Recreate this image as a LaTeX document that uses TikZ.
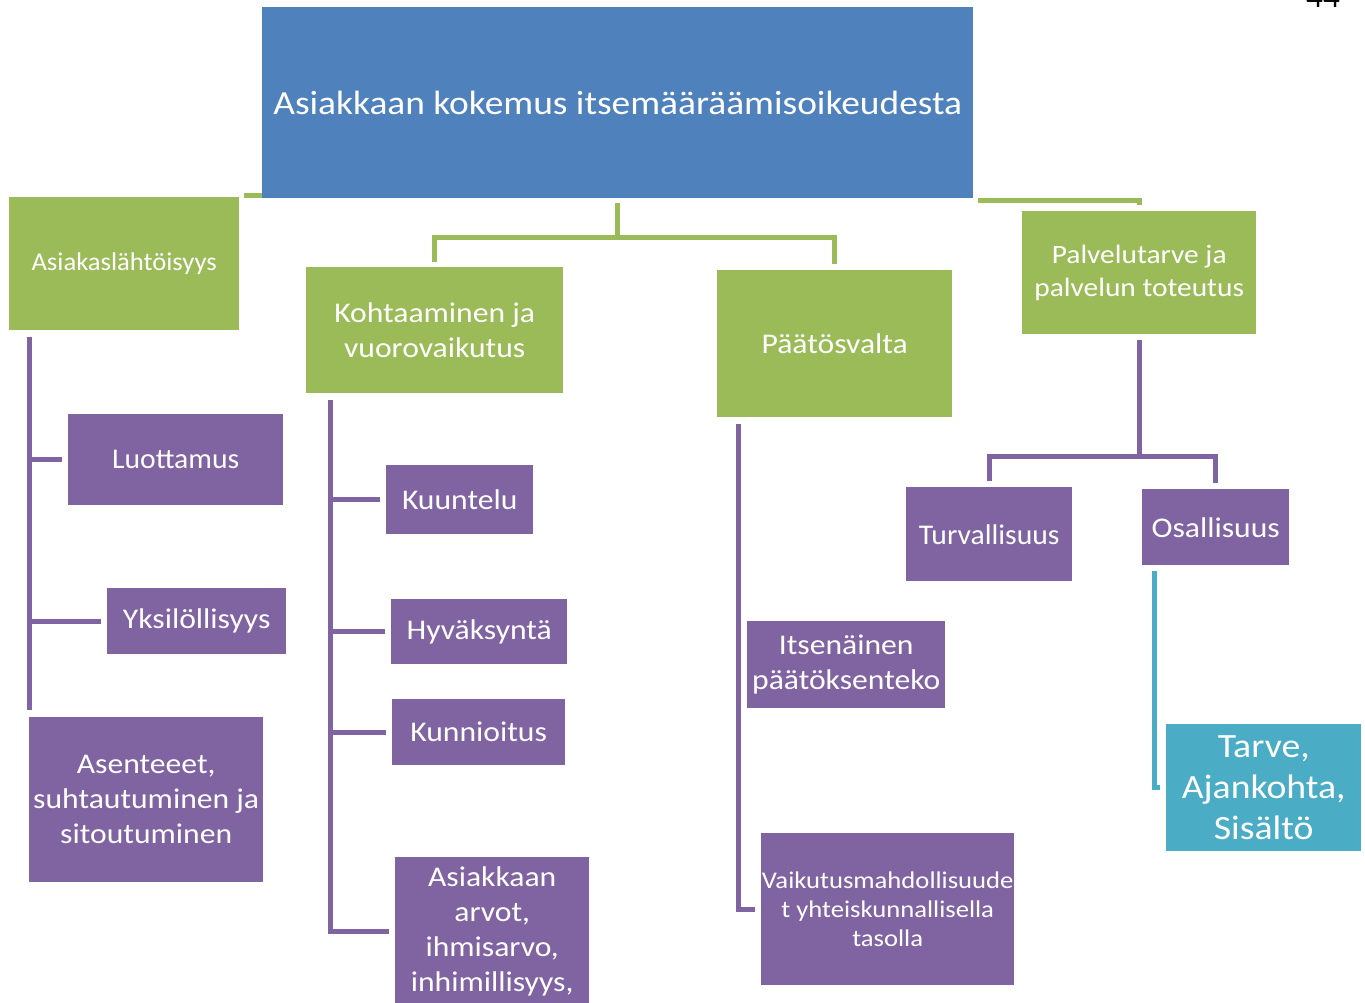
\documentclass[tikz,border=0pt]{standalone}
\usepackage{fontspec}
\setmainfont[FakeStretch=1.11]{Carlito}
\newfontfamily\narrowfont[FakeStretch=1.04]{Carlito}
\usetikzlibrary{positioning}

\begin{document}
\begin{tikzpicture}[x=1pt, y=-1pt, % pixel units, y running down like the screen
    wh/.style 2 args={minimum width=#1, minimum height=#2},
    box/.style={anchor=north west, inner sep=0pt, text=white, align=center,
                font=\fontsize{28.5}{35}\selectfont},
    bluebox/.style={box, fill=topblue},
    greenbox/.style={box, fill=topgreen},
    purplebox/.style={box, fill=subpurple},
    cyanbox/.style={box, fill=subcyan},
    greenline/.style={draw=topgreen, line width=5pt},
    purpleline/.style={draw=subpurple, line width=5pt},
    cyanline/.style={draw=subcyan, line width=5pt},
  ]
    % Define colors
    \definecolor{topblue}{RGB}{79,129,189}
    \definecolor{topgreen}{RGB}{155,187,89}
    \definecolor{subpurple}{RGB}{128,100,162}
    \definecolor{subcyan}{RGB}{75,172,198}

    \useasboundingbox (0,0) rectangle (1365,1002);

    % page number, cut by the page edge
    \node[anchor=base, font=\fontsize{30}{36}\selectfont] (page) at (1323,7) {44};

    % Main box
    \node[bluebox, wh={711}{191}, font=\fontsize{33.7}{41}\selectfont] (title) at (262,7)
        {Asiakkaan kokemus itsemääräämisoikeudesta};

    % Main themes (green)
    \node[greenbox, wh={230}{133}, font=\narrowfont\fontsize{25.6}{31}\selectfont] (asiakas) at (9,197) {Asiakaslähtöisyys};
    \node[greenbox, wh={257}{126}] (kohtaaminen) at (306,267) {Kohtaaminen ja\\vuorovaikutus};
    \node[greenbox, wh={235}{147}] (paatos) at (717,270) {Päätösvalta};
    \node[greenbox, wh={234}{123}, font=\fontsize{26.5}{33}\selectfont] (palvelu) at (1022,211) {Palvelutarve ja\\palvelun toteutus};

    % Sub themes (purple)
    \node[purplebox, wh={215}{91}, font=\narrowfont\fontsize{28.5}{35}\selectfont] (luottamus) at (68,414) {Luottamus};
    \node[purplebox, wh={179}{66}] (yksilo) at (107,588) {Yksilöllisyys};
    \node[purplebox, wh={234}{165}] (asenteet) at (29,717) {Asenteeet,\\suhtautuminen ja\\sitoutuminen};

    \node[purplebox, wh={147}{69}] (kuuntelu) at (386,465) {Kuuntelu};
    \node[purplebox, wh={176}{65}] (hyvaksynta) at (391,599) {Hyväksyntä};
    \node[purplebox, wh={173}{66}] (kunnioitus) at (392,699) {Kunnioitus};
    \node[purplebox, wh={194}{148}] (arvot) at (395,857) {Asiakkaan\\arvot,\\ihmisarvo,\\inhimillisyys,};

    \node[purplebox, wh={198}{87}] (itsenainen) at (747,621) {Itsenäinen\\päätöksenteko};
    \node[purplebox, wh={253}{152}, font=\fontsize{24}{29}\selectfont] (vaikutus) at (761,833)
        {Vaikutusmahdollisuude\\t yhteiskunnallisella\\tasolla};

    \node[purplebox, wh={166}{94}, font=\narrowfont\fontsize{28.5}{35}\selectfont] (turvallisuus) at (906,487) {Turvallisuus};
    \node[purplebox, wh={147}{76}] (osallisuus) at (1142,489) {Osallisuus};
    \node[cyanbox, wh={195}{127}, font=\fontsize{34}{41}\selectfont] (tarve) at (1166,724) {Tarve,\\Ajankohta,\\Sisältö};

    % Green connectors from the main box
    \coordinate (split) at ([yshift=-39pt]title.south);
    \draw[greenline] ([yshift=-5pt]title.south) -- (split) -| ([yshift=5pt]kohtaaminen.north);
    \draw[greenline] (split) -| ([yshift=6pt]paatos.north);
    \draw[greenline] ([xshift=5pt,yshift=-2pt]title.south east) -| ([yshift=6pt]palvelu.north);
    \coordinate (stub) at ([xshift=-18pt,yshift=3pt]title.south west);
    \draw[greenline] ([yshift=3pt]title.south west) -- (stub);

    % Asiakaslahtoisyys column
    \coordinate (ltop) at ([xshift=20pt,yshift=-7pt]asiakas.south west);
    \draw[purpleline] (ltop) -- ([yshift=7pt]asenteet.north west);
    \foreach \n in {luottamus, yksilo} {
        \draw[purpleline] (\n.west -| ltop) -- ([xshift=-6pt]\n.west);
    }

    % Kohtaaminen column
    \coordinate (ktop) at ([xshift=24pt,yshift=-7pt]kohtaaminen.south west);
    \draw[purpleline] (ktop) |- ([xshift=-6pt]arvot.west);
    \foreach \n in {kuuntelu, hyvaksynta, kunnioitus} {
        \draw[purpleline] (\n.west -| ktop) -- ([xshift=-6pt]\n.west);
    }

    % Paatosvalta column
    \coordinate (ptop) at ([xshift=21pt,yshift=-7pt]paatos.south west);
    \draw[purpleline] (ptop) |- ([xshift=-6pt]vaikutus.west);

    % Palvelutarve branches
    \coordinate (psplit) at ([yshift=-122pt]palvelu.south);
    \draw[purpleline] ([yshift=-6pt]palvelu.south) -- (psplit) -| ([yshift=6pt]turvallisuus.north);
    \draw[purpleline] (psplit) -| ([yshift=6pt]osallisuus.north);
    \draw[cyanline] ([xshift=12pt,yshift=-6pt]osallisuus.south west) |- ([xshift=-6pt]tarve.west);

\end{tikzpicture}
\end{document}
